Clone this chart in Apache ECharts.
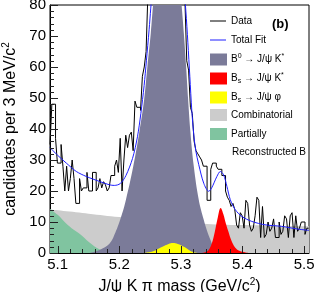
<!DOCTYPE html>
<html>
<head>
<meta charset="utf-8">
<script src="https://cdn.jsdelivr.net/npm/echarts@6/dist/echarts.min.js"></script>
<style>
html,body{margin:0;padding:0;background:#fff;}
#c{width:314px;height:292px;}
</style>
</head>
<body>
<div id="c"></div>
<script>
// ---------- data ----------
const xMin = 5.0875, xMax = 5.508;
const binLow = 5.0875, binWidth = 0.003;
const dataCounts = [
  35,48,48,37,29,29,35,28,20,28, 20,24,30,24,16,16,24,20,21,21,
  26,20,20,26,26,20,21,24,21,23, 22,20,21,25,25,28,30,26,37,20,
  30,38,34,38,39,33,49,47,47,46, 57,60,65,84,
  92,100,108,116,121,126,130,131,130,127,122,117,110,104,98,93,89,86,84,82,
  62,59,47,45,36,33,
  32,31,30,28,28,17,17,27,29,29, 28,27,27,25,25,20,18,17,15,16,
  14,9,8,13,12,8,17,16,9,7, 8,12,18,17,5,15,5,6,10,7,
  8,11,5,5,10,6,7,12,11,5, 12,13,5,12,7,8,10,10,6,8
];
const fitX = [5.0875,5.1,5.114,5.1302,5.1463,5.1677,5.1839,5.1919,5.2016,5.2108,5.2215,5.2295,5.235,5.2403,5.244,5.2484,5.2511,5.2532,5.265,5.278,5.292,5.304,5.3081,5.3113,5.3145,5.3177,5.321,5.3242,5.329,5.3371,5.3452,5.35,5.3585,5.364,5.3694,5.3747,5.3802,5.3882,5.3989,5.415,5.4366,5.4634,5.4903,5.508];
const fitY = [34,31.5,29,26.3,24.7,23.1,22.0,21.8,22.4,25,30.5,37.5,45,54,62,72,79,84,110,128,110,88,78,68,57,46,38,33,28.5,22.5,19.9,21,24.7,26.3,25.2,21.5,17.2,14,11.8,10.2,9.1,8.6,7.7,7.3];
const b0X = [5.150,5.155,5.168,5.184,5.1935,5.2027,5.2108,5.2226,5.2323,5.2403,5.2456,5.2511,5.2548,5.265,5.278,5.290,5.3011,5.3048,5.3085,5.3118,5.3156,5.321,5.329,5.3371,5.3419,5.3479,5.356,5.370];
const b0Y = [0,0.2,1.0,3.0,6.5,11.5,17.2,27.9,38.7,49.4,60.1,70.9,80,102,115,104,80,70.9,60.1,49.4,38.7,27.9,17.2,10.7,7.5,4.3,0.8,0];
const bsKX = [5.335,5.340,5.345,5.350,5.355,5.360,5.3645,5.369,5.373,5.377,5.382,5.388,5.395,5.405,5.415];
const bsKY = [0,0.3,1.0,3.0,6.8,11.5,14.5,12.5,9.5,7.0,4.0,1.8,0.7,0.2,0];
const bsPhiX = [5.240,5.250,5.260,5.270,5.280,5.287,5.295,5.305,5.313,5.320,5.328];
const bsPhiY = [0,0.3,1.0,2.0,2.9,3.2,2.9,2.0,1.0,0.3,0];
const combX = [5.0875,5.15,5.2,5.25,5.3,5.35,5.4,5.45,5.508];
const combY = [14.0,12.7,11.6,10.7,9.9,9.3,9.0,8.8,8.6];
const partX = [5.0875,5.1,5.1113,5.1226,5.1355,5.1516,5.1677,5.1839,5.2];
const partY = [14.2,12.3,10.0,8.0,6.2,3.4,1.2,0.3,0];
const xMajorTicks = [5.1,5.2,5.3,5.4,5.5];
const xMinorTicks = [5.12,5.14,5.16,5.18,5.22,5.24,5.26,5.28,5.32,5.34,5.36,5.38,5.42,5.44,5.46,5.48];
const yMajorTicks = [0,10,20,30,40,50,60,70,80];
const yMinorTicks = [2,4,6,8,12,14,16,18,22,24,26,28,32,34,36,38,42,44,46,48,52,54,56,58,62,64,66,68,72,74,76,78];

// ---------- build ----------
const zip = (xs, ys) => xs.map((x, i) => [x, ys[i]]);
const histPts = dataCounts.map((v, i) => [binLow + i * binWidth, v]);
histPts.push([binLow + dataCounts.length * binWidth, dataCounts[dataCounts.length - 1]]);

const FONT = "'Liberation Sans', Arial, Helvetica, sans-serif";
const C_B0 = '#7b7b99', C_RED = '#ff0000', C_YEL = '#ffff00', C_COMB = '#cccccc', C_PART = '#80c4a0', C_FIT = '#1f1fff';
const TICK = '#222';

function area(name, pts, color) {
  return {
    name, type: 'line', data: pts, smooth: 0.4, symbol: 'none',
    lineStyle: { width: 0 }, areaStyle: { color, opacity: 1 },
    silent: true, z: 1
  };
}

const chart = echarts.init(document.getElementById('c'), null, { renderer: 'canvas' });
const rich10 = {
  sup: { fontSize: 7, fontFamily: FONT, color: '#000', padding: [0, 0, 7, 0] },
  sub: { fontSize: 7, fontFamily: FONT, color: '#000', padding: [5, 0, 0, 0] }
};
function legText(txt, y, x) {
  return { type: 'text', x: x || 231, y, style: { text: txt, fontSize: 10, fontFamily: FONT, fill: '#000', verticalAlign: 'middle', rich: rich10 } };
}
function legRect(y, color) {
  return { type: 'rect', shape: { x: 210, y: y - 6, width: 17, height: 12 }, style: { fill: color } };
}
const legendGraphics = [
  { type: 'line', shape: { x1: 210, y1: 21, x2: 226, y2: 21 }, style: { stroke: '#000', lineWidth: 1 } },
  legText('Data', 21),
  { type: 'line', shape: { x1: 210, y1: 40, x2: 226, y2: 40 }, style: { stroke: C_FIT, lineWidth: 1 } },
  legText('Total Fit', 40),
  legRect(59.5, C_B0), legText('B{sup|0} → J/ψ K{sup|*}', 59.5),
  legRect(78.5, C_RED), legText('B{sub|s} → J/ψ K{sup|*}', 78.5),
  legRect(97.5, C_YEL), legText('B{sub|s} → J/ψ φ', 97.5),
  legRect(115, C_COMB), legText('Combinatorial', 115),
  legRect(134, C_PART), legText('Partially', 134),
  legText('Reconstructed B', 152, 232),
  { type: 'text', x: 272, y: 24, style: { text: '(b)', fontSize: 13, fontWeight: 'bold', fontFamily: FONT, fill: '#000', verticalAlign: 'middle' } }
];

chart.setOption({
  animation: false,
  grid: { left: 50, right: 5, top: 5, bottom: 39, show: true, borderColor: '#000', borderWidth: 1,
          containLabel: false, outerBoundsMode: 'none' },
  xAxis: {
    type: 'value', min: xMin, max: xMax,
    axisLine: { show: true, lineStyle: { color: '#000', width: 1 } },
    axisTick: { show: false },
    axisLabel: { customValues: xMajorTicks, formatter: v => v.toFixed(1), fontSize: 15, fontFamily: FONT, color: '#000', margin: 4 },
    splitLine: { show: false },
    name: 'J/ψ K π mass (GeV/c{sup|2})', nameLocation: 'middle', nameGap: 21,
    nameTextStyle: { fontSize: 16, fontFamily: FONT, color: '#000',
      rich: { sup: { fontSize: 10, fontFamily: FONT, color: '#000', padding: [0, 0, 9, 0] } } }
  },
  yAxis: {
    type: 'value', min: 0, max: 80, interval: 10,
    axisLine: { show: true, lineStyle: { color: '#000', width: 1 } },
    axisTick: { show: false },
    minorTick: { show: false },
    axisLabel: { fontSize: 15, fontFamily: FONT, color: '#000', margin: 4 },
    splitLine: { show: false },
    name: 'candidates per 3 MeV/c{sup|2}', nameLocation: 'middle', nameGap: 29, nameRotate: 90,
    nameTextStyle: { fontSize: 16, fontFamily: FONT, color: '#000',
      rich: { sup: { fontSize: 10, fontFamily: FONT, color: '#000', padding: [0, 0, 9, 0] } } }
  },
  series: [
    area('Combinatorial', zip(combX, combY), C_COMB),
    area('Partially Reconstructed B', zip(partX, partY), C_PART),
    area('B0 → J/ψ K*', zip(b0X, b0Y), C_B0),
    area('Bs → J/ψ φ', zip(bsPhiX, bsPhiY), C_YEL),
    area('Bs → J/ψ K*', zip(bsKX, bsKY), C_RED),
    { name: 'Data', type: 'line', data: histPts, step: 'end', symbol: 'none', z: 2,
      lineStyle: { color: '#000', width: 1 }, silent: true },
    { name: 'Total Fit', type: 'line', data: zip(fitX, fitY), smooth: 0.3, symbol: 'none', z: 3,
      lineStyle: { color: C_FIT, width: 1 }, silent: true }
  ],
  graphic: legendGraphics
});

// tick marks placed through the chart's own axis scales
const tickGraphics = [];
function addTick(x, y, isX, len) {
  const p = chart.convertToPixel({ gridIndex: 0 }, [x, y]);
  if (isX) {
    const px = Math.round(p[0]) + 0.5, py = Math.round(p[1]);
    tickGraphics.push({ type: 'line', z: 100, shape: { x1: px, y1: py, x2: px, y2: py - len }, style: { stroke: TICK, lineWidth: 1 } });
  } else {
    const px = Math.round(p[0]), py = Math.round(p[1]) + 0.5;
    tickGraphics.push({ type: 'line', z: 100, shape: { x1: px, y1: py, x2: px + len, y2: py }, style: { stroke: TICK, lineWidth: 1 } });
  }
}
xMajorTicks.forEach(v => addTick(v, 0, true, 7));
xMinorTicks.forEach(v => addTick(v, 0, true, 4));
yMajorTicks.forEach(v => addTick(xMin, v, false, 8));
yMinorTicks.forEach(v => addTick(xMin, v, false, 4));
chart.setOption({ graphic: legendGraphics.concat(tickGraphics) });
</script>
</body>
</html>
